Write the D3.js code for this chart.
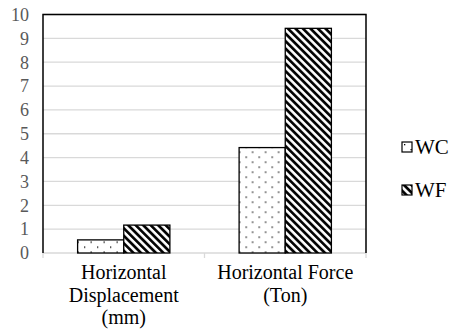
<!DOCTYPE html>
<html>
<head>
<meta charset="utf-8">
<script src="https://cdn.jsdelivr.net/npm/d3@7"></script>
<style>
  body { margin: 0; background: #fff; }
  #chart text, #chart tspan { font-family: "Liberation Serif", "Times New Roman", serif !important; }
</style>
</head>
<body>
<svg id="chart" width="462" height="332"></svg>
<script>
"use strict";
// chart data
const categories = ["Horizontal Displacement (mm)", "Horizontal Force (Ton)"];
const categoryLines = [["Horizontal", "Displacement", "(mm)"], ["Horizontal Force", "(Ton)"]];
const series = ["WC", "WF"];
const wcValues = [0.55, 4.42];
const wfValues = [1.17, 9.42];
const yTicks = [0, 1, 2, 3, 4, 5, 6, 7, 8, 9, 10];

const values = {WC: wcValues, WF: wfValues};
const FONT = "'Liberation Serif', 'Times New Roman', serif";

let svg = d3.select("#chart");
let margin = {top: 14.5, left: 43, right: 96, bottom: 79};
let width = 462 - margin.left - margin.right,
    height = 332 - margin.top - margin.bottom;

// patterns
let defs = svg.append("defs");
let dots = defs.append("pattern")
    .attr("id", "dots")
    .attr("patternUnits", "userSpaceOnUse")
    .attr("width", 13).attr("height", 10);
dots.append("rect").attr("width", 13).attr("height", 10).attr("fill", "#fff");
dots.append("rect").attr("x", 2).attr("y", 2).attr("width", 1.3).attr("height", 1.3).attr("fill", "#000");
dots.append("rect").attr("x", 8.5).attr("y", 7).attr("width", 1.3).attr("height", 1.3).attr("fill", "#000");

let stripes = defs.append("pattern")
    .attr("id", "stripes")
    .attr("patternUnits", "userSpaceOnUse")
    .attr("width", 5.3).attr("height", 5.3)
    .attr("patternTransform", "rotate(-45)");
stripes.append("rect").attr("width", 5.3).attr("height", 5.3).attr("fill", "#fff");
stripes.append("line")
    .attr("x1", 1.4).attr("x2", 1.4).attr("y1", 0).attr("y2", 5.3)
    .attr("stroke", "#000").attr("stroke-width", 2.7);

const fills = {WC: "url(#dots)", WF: "url(#stripes)"};

let g = svg.append("g")
    .attr("transform", "translate(" + margin.left + "," + margin.top + ")");

let y = d3.scaleLinear().domain([0, 10]).range([height, 0]);
let x0 = d3.scaleBand().domain(categories).range([0, width]).padding(0);
let x1 = d3.scaleBand().domain(series).range([0, x0.bandwidth()])
    .paddingInner(0).paddingOuter(0.75);

// gridlines
g.append("g")
    .selectAll("line")
    .data(yTicks.slice(1))
    .enter().append("line")
    .attr("x1", 0).attr("x2", width)
    .attr("y1", d => y(d)).attr("y2", d => y(d))
    .attr("stroke", "#d9d9d9").attr("stroke-width", 1.3);

// y tick labels
g.append("g")
    .selectAll("text")
    .data(yTicks)
    .enter().append("text")
    .attr("x", -14)
    .attr("y", d => y(d))
    .attr("dy", "0.35em")
    .attr("text-anchor", "end")
    .attr("fill", "#595959")
    .style("font-family", FONT, "important")
    .style("font-size", "18px")
    .text(d => d);

// bottom axis (gray) with ticks at category boundaries
g.append("line")
    .attr("x1", 0).attr("x2", width)
    .attr("y1", height).attr("y2", height)
    .attr("stroke", "#d9d9d9").attr("stroke-width", 1.3);
let bounds = categories.map(c => x0(c)).concat([width]);
g.append("g")
    .selectAll("line")
    .data(bounds)
    .enter().append("line")
    .attr("x1", d => d).attr("x2", d => d)
    .attr("y1", height).attr("y2", height + 5)
    .attr("stroke", "#d9d9d9").attr("stroke-width", 1.3);

// border left / top / right
g.append("path")
    .attr("d", "M0," + height + "V0H" + width + "V" + height)
    .attr("fill", "none")
    .attr("stroke", "#000")
    .attr("stroke-width", 1.5);

// bars
let groups = g.selectAll(".cat")
    .data(categories)
    .enter().append("g")
    .attr("class", "cat")
    .attr("transform", d => "translate(" + x0(d) + ",0)");

groups.selectAll("rect")
    .data((d, i) => series.map(s => ({s: s, v: values[s][i]})))
    .enter().append("rect")
    .attr("x", d => x1(d.s))
    .attr("y", d => y(d.v))
    .attr("width", x1.bandwidth())
    .attr("height", d => height - y(d.v))
    .attr("fill", d => fills[d.s])
    .attr("stroke", "#000")
    .attr("stroke-width", 1.3);

// category labels
groups.append("text")
    .attr("x", x0.bandwidth() / 2)
    .attr("text-anchor", "middle")
    .attr("fill", "#000")
    .style("font-family", FONT, "important")
    .style("font-size", "20px")
    .selectAll("tspan")
    .data((d, i) => categoryLines[i])
    .enter().append("tspan")
    .attr("x", x0.bandwidth() / 2)
    .attr("y", (d, i) => height + 26 + i * 22.5)
    .style("font-family", FONT, "important")
    .text(d => d);

// legend
let legend = svg.append("g")
    .attr("transform", "translate(402,142)");
let items = legend.selectAll("g")
    .data(series)
    .enter().append("g")
    .attr("transform", (d, i) => "translate(0," + i * 43 + ")");
items.append("rect")
    .attr("width", 10).attr("height", 10)
    .attr("fill", d => fills[d])
    .attr("stroke", "#000")
    .attr("stroke-width", 1.2);
items.append("text")
    .attr("x", 13)
    .attr("y", 5)
    .attr("dy", "0.35em")
    .attr("fill", "#000")
    .style("font-family", FONT, "important")
    .style("font-size", "21px")
    .text(d => d);
</script>
</body>
</html>
